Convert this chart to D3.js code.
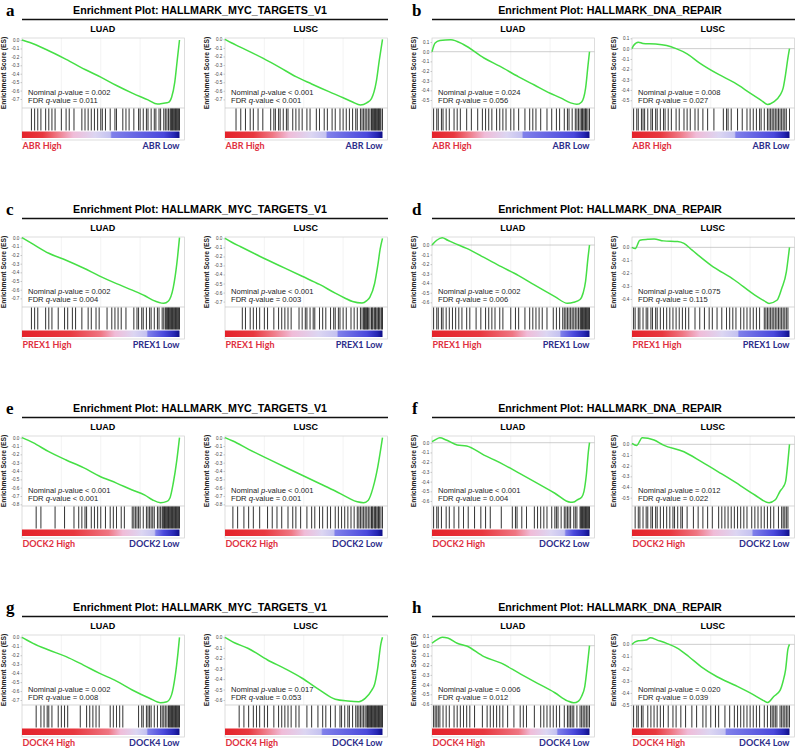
<!DOCTYPE html>
<html><head><meta charset="utf-8">
<script src="https://cdn.jsdelivr.net/npm/d3@7"></script>
<style>body{margin:0;background:#fff} svg{display:block}</style>
</head><body>
<svg id="c" width="800" height="749"></svg>
<script>
// ---------- DATA ----------
const panelLetters = ['a','b','c','d','e','f','g','h'];
const geneSets = ['HALLMARK_MYC_TARGETS_V1','HALLMARK_DNA_REPAIR','HALLMARK_MYC_TARGETS_V1','HALLMARK_DNA_REPAIR',
                  'HALLMARK_MYC_TARGETS_V1','HALLMARK_DNA_REPAIR','HALLMARK_MYC_TARGETS_V1','HALLMARK_DNA_REPAIR'];
const genes = ['ABR','ABR','PREX1','PREX1','DOCK2','DOCK2','DOCK4','DOCK4'];
const cohorts = ['LUAD','LUSC'];
// subplot order: aLUAD, aLUSC, bLUAD, bLUSC, ... hLUSC
const pValues = ['= 0.002','< 0.001','= 0.024','= 0.008','= 0.002','< 0.001','= 0.002','= 0.075',
                 '< 0.001','< 0.001','< 0.001','= 0.012','= 0.002','= 0.017','= 0.006','= 0.020'];
const qValues = ['= 0.011','< 0.001','= 0.056','= 0.027','= 0.004','= 0.003','= 0.006','= 0.115',
                 '< 0.001','= 0.001','= 0.004','= 0.022','= 0.008','= 0.053','= 0.012','= 0.039'];
const yDomains = [[-0.807,0.024],[-0.80,0.015],[-0.583,0.142],[-0.575,0.103],[-0.80,0.008],[-0.76,0.015],
                  [-0.649,0.084],[-0.462,0.08],[-0.82,0.02],[-0.82,0.02],[-0.651,0.069],[-0.578,0.078],
                  [-0.756,0.026],[-0.648,0.022],[-0.61,0.11],[-0.50,0.077]];
const tickTop =    [0,0,0.1,0.1,0,0,0,0,0,0,0,0,0,0,0.1,0];
const tickBottom = [-0.7,-0.7,-0.5,-0.5,-0.7,-0.7,-0.6,-0.4,-0.8,-0.8,-0.6,-0.5,-0.7,-0.6,-0.6,-0.5];
const redEnd =    [0.22,0.30,0.23,0.30,0.50,0.30,0.51,0.32,0.55,0.42,0.53,0.41,0.55,0.25,0.55,0.25];
const blueStart = [0.57,0.65,0.58,0.66,0.80,0.72,0.82,0.68,0.85,0.70,0.85,0.77,0.80,0.62,0.80,0.60];

const esCurves = [
 [[0,0],[0.05,-0.03],[0.15,-0.11],[0.28,-0.23],[0.4,-0.35],[0.5,-0.44],[0.6,-0.54],[0.7,-0.63],[0.8,-0.71],[0.86,-0.76],[0.9,-0.75],[0.93,-0.74],[0.95,-0.68],[0.97,-0.5],[0.985,-0.25],[1,0]],
 [[0,0],[0.04,-0.04],[0.09,-0.085],[0.24,-0.22],[0.35,-0.33],[0.45,-0.435],[0.55,-0.52],[0.66,-0.61],[0.75,-0.68],[0.81,-0.73],[0.86,-0.765],[0.9,-0.74],[0.93,-0.69],[0.96,-0.5],[0.98,-0.24],[1,0]],
 [[0,0],[0.02,0.09],[0.05,0.115],[0.12,0.125],[0.2,0.075],[0.33,-0.065],[0.43,-0.15],[0.55,-0.26],[0.65,-0.345],[0.75,-0.43],[0.82,-0.48],[0.88,-0.53],[0.92,-0.545],[0.95,-0.52],[0.975,-0.38],[0.99,-0.15],[1,0]],
 [[0,0],[0.01,0.03],[0.04,0.063],[0.07,0.05],[0.15,0.045],[0.22,0.03],[0.28,0.0],[0.35,-0.05],[0.43,-0.14],[0.55,-0.25],[0.65,-0.33],[0.75,-0.43],[0.82,-0.5],[0.86,-0.54],[0.9,-0.515],[0.94,-0.45],[0.96,-0.38],[0.975,-0.25],[0.99,-0.09],[1,0]],
 [[0,0],[0.07,-0.075],[0.17,-0.18],[0.28,-0.26],[0.39,-0.35],[0.49,-0.44],[0.6,-0.53],[0.7,-0.605],[0.78,-0.67],[0.83,-0.72],[0.9,-0.757],[0.93,-0.73],[0.96,-0.58],[0.983,-0.3],[1,0]],
 [[0,0],[0.04,-0.04],[0.1,-0.093],[0.27,-0.24],[0.38,-0.33],[0.49,-0.42],[0.6,-0.51],[0.7,-0.607],[0.76,-0.66],[0.81,-0.7],[0.87,-0.717],[0.9,-0.69],[0.92,-0.65],[0.95,-0.5],[0.97,-0.3],[0.985,-0.12],[1,0]],
 [[0,0],[0.03,0.05],[0.065,0.076],[0.1,0.05],[0.14,0.02],[0.22,-0.035],[0.33,-0.13],[0.44,-0.227],[0.55,-0.32],[0.65,-0.418],[0.78,-0.54],[0.86,-0.61],[0.9,-0.6],[0.94,-0.57],[0.96,-0.5],[0.975,-0.38],[0.99,-0.14],[1,0]],
 [[0,0],[0.02,-0.01],[0.05,0.055],[0.1,0.062],[0.14,0.065],[0.2,0.05],[0.29,0.045],[0.33,0.03],[0.38,-0.02],[0.5,-0.137],[0.65,-0.253],[0.78,-0.37],[0.84,-0.415],[0.87,-0.434],[0.92,-0.41],[0.95,-0.32],[0.98,-0.19],[0.995,-0.05],[1,0]],
 [[0,0],[0.07,-0.06],[0.17,-0.168],[0.28,-0.268],[0.39,-0.36],[0.49,-0.46],[0.6,-0.545],[0.7,-0.628],[0.78,-0.69],[0.83,-0.748],[0.88,-0.78],[0.92,-0.765],[0.94,-0.72],[0.96,-0.55],[0.983,-0.27],[1,0]],
 [[0,0],[0.05,-0.04],[0.15,-0.14],[0.28,-0.26],[0.4,-0.37],[0.5,-0.46],[0.6,-0.55],[0.7,-0.64],[0.78,-0.72],[0.84,-0.77],[0.88,-0.78],[0.91,-0.75],[0.94,-0.6],[0.97,-0.35],[1,0]],
 [[0,0.01],[0.02,0.03],[0.05,0.05],[0.09,0.028],[0.16,-0.024],[0.22,-0.034],[0.33,-0.127],[0.44,-0.212],[0.55,-0.31],[0.65,-0.4],[0.78,-0.52],[0.88,-0.613],[0.9,-0.61],[0.92,-0.59],[0.95,-0.56],[0.965,-0.5],[0.98,-0.33],[0.993,-0.09],[1,0]],
 [[0,0.01],[0.03,-0.01],[0.065,0.062],[0.14,0.04],[0.2,-0.007],[0.33,-0.07],[0.44,-0.163],[0.55,-0.26],[0.65,-0.35],[0.78,-0.475],[0.87,-0.547],[0.91,-0.52],[0.94,-0.44],[0.96,-0.4],[0.975,-0.35],[0.99,-0.16],[1,0]],
 [[0,0],[0.03,-0.03],[0.07,-0.067],[0.17,-0.142],[0.28,-0.216],[0.39,-0.31],[0.49,-0.4],[0.6,-0.49],[0.7,-0.588],[0.81,-0.68],[0.88,-0.73],[0.92,-0.72],[0.95,-0.64],[0.972,-0.44],[0.99,-0.18],[1,0]],
 [[0,0],[0.06,-0.052],[0.145,-0.105],[0.27,-0.217],[0.38,-0.3],[0.49,-0.392],[0.6,-0.504],[0.7,-0.593],[0.78,-0.61],[0.85,-0.616],[0.89,-0.585],[0.93,-0.51],[0.95,-0.45],[0.968,-0.31],[0.99,-0.06],[1,0]],
 [[0,0.025],[0.03,0.06],[0.065,0.087],[0.1,0.08],[0.16,0.025],[0.22,-0.003],[0.33,-0.113],[0.44,-0.18],[0.55,-0.28],[0.65,-0.37],[0.78,-0.484],[0.86,-0.567],[0.9,-0.588],[0.93,-0.57],[0.95,-0.52],[0.97,-0.42],[0.99,-0.15],[1,0]],
 [[0,0],[0.02,0.02],[0.04,0.03],[0.09,0.035],[0.117,0.054],[0.16,0.035],[0.22,0.008],[0.29,-0.033],[0.36,-0.1],[0.44,-0.185],[0.54,-0.267],[0.65,-0.335],[0.75,-0.4],[0.84,-0.467],[0.86,-0.48],[0.9,-0.43],[0.94,-0.38],[0.96,-0.3],[0.975,-0.21],[0.99,-0.04],[1,0]]
];

// gene-set hit positions along the ranked list (percent of list)
const hits = [
 [6,8,10,12,15,17,19,21,25,28,30,33,38,40,42,44,46,48,50,51,53,56,59,60,64,66,68,71,74,75,77,79,80,82,84,85,87,88,90,91,92,93,94,94.5,95,95.5,96,96.5,97,97.5,98,98.5,99,99.5,100],
 [7,10,13,16,18,21,24,29,31,32,34,35,37,39,40,43,45,47,49,52,54,58,60,63,65,68,70,73,75,77,79,81,83,84,86,87,88,89,90,91,92,93,93.5,94,94.5,95,95.5,96,96.5,97,97.5,98,98.5,99,100],
 [1,3,4,6,7,9,11,14,16,18,22,25,29,32,34,36,38,41,43,45,47,50,52,55,59,62,64,66,69,73,76,79,81,84,86,87,89,91,92,93,94,95,95.5,96,97,97.5,98,99,100],
 [1,3,4,6,7,8,10,12,13,15,16,18,20,21,23,25,28,30,33,35,37,40,42,45,48,52,58,60,61,63,67,70,73,75,77,79,81,82,84,86,87,88,89,90,91,92,93,94,95,96,97,98,100],
 [6,8,10,15,17,19,23,27,29,32,34,38,42,44,47,49,54,57,59,61,63,66,71,73,74,76,77,79,81,82,84,86,87,89,90,91,91.5,92,92.5,93,93.5,94,94.5,95,95.5,96,96.5,97,97.5,98,98.5,99,99.5,100],
 [11,13,16,18,20,22,25,27,31,34,36,38,40,42,47,49,51,52,54,56,57,60,62,64,67,69,70,72,73,75,77,80,82,84,86,87,88,88.5,89,89.5,90,90.5,91,92,93,93.5,94,95,95.5,96,97,97.5,98,99,99.5,100],
 [1,3,4,6,7,9,11,13,15,17,19,22,24,28,31,34,36,38,40,43,45,50,53,55,59,62,64,66,68,70,73,77,79,81,83,84,85,86,87,88,89,90,91,92,93,94,94.5,95,95.5,96,96.5,97,97.5,98,98.5,99,99.5,100],
 [1,2,4,5,7,9,10,12,13,15,16,18,20,22,24,26,28,30,32,34,36,40,43,46,49,51,54,57,60,62,64,66,69,71,73,75,77,79,81,84,85,86,87,88,89,90,91,92,93,94,95,96,97,98,99],
 [9,12,21,27,33,36,38,40,41,44,46,48,50,53,56,58,60,63,65,70,71,72,73,74,75,77,79,80,81,82,83,84,86,87,88,89,89.5,90,90.5,91,91.5,92,92.5,93,93.5,94,94.5,95,95.5,96,96.5,97,97.5,98,98.5,99,99.5,100],
 [5,8,12,15,18,22,27,30,33,36,40,43,45,48,52,55,57,60,62,65,67,70,72,74,76,78,80,82,84,85,86,87,88,89,90,91,92,93,93.5,94,95,95.5,96,97,97.5,98,99,100],
 [1,3,4,6,9,11,14,17,20,23,27,31,34,37,44,51,53,54,57,60,65,67,69,71,73,76,78,79,80,82,84,85,86,87,88,90,91,92,94,94.5,95,95.5,96,96.5,97,97.5,98,98.5,99,99.5,100],
 [2,4,5,7,9,10,12,13,15,16,18,20,22,24,26,27,29,31,32,35,39,42,45,48,51,55,57,59,61,63,65,67,69,71,73,76,78,80,82,84,86,88,90,93,95,96,97,98,99],
 [9,12,14,16,17,19,23,25,27,29,37,41,43,45,47,49,56,58,60,62,64,74,76,77,79,80,81,82,84,86,88,89,90,91,92,93,93.5,94,94.5,95,95.5,96,96.5,97,97.5,98,98.5,99,99.5,100],
 [9,12,15,18,20,22,25,27,31,34,36,38,40,42,45,47,52,55,59,62,64,67,70,73,74,76,78,79,81,83,84,85,86,87,88,89,90,90.5,91,91.5,92,92.5,93,93.5,94,94.5,95,95.5,96,96.5,97,97.5,98,98.5,99,99.5,100],
 [1,2,3,4,5,7,9,11,14,16,18,20,22,24,27,32,35,37,39,41,43,45,48,52,56,58,60,65,69,71,73,75,77,79,81,84,86,87,88,89,90,92,94,95,96,97,98,99,100],
 [1,3,4,6,7,10,12,14,16,18,20,23,26,28,31,34,38,41,45,47,50,53,55,59,62,65,67,69,71,73,75,77,79,81,84,86,88,89,90,91,92,94,95,96,97,98,99,100]
];

// ---------- DRAW ----------
const svg = d3.select('#c');
const defs = svg.append('defs');
const ROW_H = 199;
const colX = [[22,225],[432,632]];
const PW = 157.5;
const TOP = 38, CURVE_B = 108, BAR_T = 108, BAR_B = 130.5, GR_T = 131.5, GR_B = 138, BOX_B = 140;
const SANS = 'Liberation Sans, Arial, sans-serif';
const LABEL = 'Lato, Open Sans, sans-serif';

panelLetters.forEach((L, p) => {
  const col = p % 2, row = Math.floor(p / 2);
  const g = svg.append('g').attr('transform', `translate(0,${row * ROW_H})`);
  g.append('text').attr('x', col ? 412 : 6).attr('y', 16)
    .attr('font-family', 'Liberation Serif, Times New Roman, serif').attr('font-weight', 'bold')
    .attr('font-size', 17).text(L);
  g.append('text').attr('x', col ? 610 : 200).attr('y', 14).attr('text-anchor', 'middle')
    .attr('font-family', SANS).attr('font-weight', 'bold').attr('font-size', 10.7)
    .text('Enrichment Plot: ' + geneSets[p]);
  g.append('line').attr('x1', col ? 432 : 22).attr('x2', col ? 795 : 388)
    .attr('y1', 19.5).attr('y2', 19.5).attr('stroke', '#111').attr('stroke-width', 1.3);

  cohorts.forEach((coh, k) => {
    const i = p * 2 + k;
    const x0 = colX[col][k];
    const x = d3.scaleLinear().domain([0, 1]).range([x0, x0 + PW]);
    const y = d3.scaleLinear().domain(yDomains[i]).range([CURVE_B, TOP]);
    const sg = g.append('g');

    sg.append('text').attr('x', x(0.5) + 2).attr('y', 31.5).attr('text-anchor', 'middle')
      .attr('font-family', SANS).attr('font-weight', 'bold').attr('font-size', 9).text(coh);

    [0.25, 0.5, 0.75].forEach(f => sg.append('line').attr('x1', x(f)).attr('x2', x(f))
      .attr('y1', TOP).attr('y2', CURVE_B).attr('stroke', '#ececec').attr('stroke-width', 0.6));

    sg.append('rect').attr('x', x0).attr('y', TOP).attr('width', PW + 5).attr('height', BOX_B - TOP)
      .attr('fill', 'none').attr('stroke', '#cfcfcf').attr('stroke-width', 0.7);
    sg.append('line').attr('x1', x0).attr('x2', x0 + PW + 5).attr('y1', BAR_T).attr('y2', BAR_T)
      .attr('stroke', '#c4c4c4').attr('stroke-width', 0.7);

    if (yDomains[i][1] > 0.03) {
      sg.append('line').attr('x1', x0).attr('x2', x0 + PW + 5).attr('y1', y(0)).attr('y2', y(0))
        .attr('stroke', '#b8b8b8').attr('stroke-width', 0.7);
    }

    const ticks = d3.range(Math.round(tickTop[i] * 10), Math.round(tickBottom[i] * 10) - 1, -1).map(v => v / 10);
    const ax = sg.append('g').attr('transform', `translate(${x0},0)`)
      .call(d3.axisLeft(y).tickValues(ticks).tickSize(1.5).tickPadding(1.2)
        .tickFormat(d => (Math.abs(d) < 1e-9 ? '0.0' : d.toFixed(1))));
    ax.select('.domain').remove();
    ax.selectAll('line').attr('stroke', '#999').attr('stroke-width', 0.5);
    ax.selectAll('text').attr('font-family', SANS).attr('font-size', 4.6).attr('fill', '#444');

    sg.append('text').attr('transform', `translate(${x0 - 16},${(TOP + CURVE_B) / 2}) rotate(-90)`)
      .attr('text-anchor', 'middle').attr('font-family', SANS).attr('font-weight', 'bold')
      .attr('font-size', 6.7).attr('fill', '#222').text('Enrichment Score (ES)');

    const line = d3.line().x(d => x(d[0])).y(d => y(d[1])).curve(d3.curveMonotoneX);
    sg.append('path').datum(esCurves[i]).attr('d', line).attr('fill', 'none')
      .attr('stroke', '#45df45').attr('stroke-width', 1.5);

    const t1 = sg.append('text').attr('x', x0 + 6).attr('y', 94.8).attr('font-family', SANS)
      .attr('font-size', 7.6).attr('fill', '#222');
    t1.append('tspan').text('Nominal ');
    t1.append('tspan').attr('font-style', 'italic').text('p');
    t1.append('tspan').text('-value ' + pValues[i]);
    const t2 = sg.append('text').attr('x', x0 + 6).attr('y', 103.4).attr('font-family', SANS)
      .attr('font-size', 7.6).attr('fill', '#222');
    t2.append('tspan').text('FDR ');
    t2.append('tspan').attr('font-style', 'italic').text('q');
    t2.append('tspan').text('-value ' + qValues[i]);

    sg.append('g').selectAll('line').data(hits[i]).join('line')
      .attr('x1', d => x(d / 100)).attr('x2', d => x(d / 100))
      .attr('y1', BAR_T + 0.5).attr('y2', BAR_B)
      .attr('stroke', '#1a1a1a').attr('stroke-width', 1.05).attr('stroke-opacity', 0.85);

    const re = redEnd[i], bs = blueStart[i];
    const gid = 'grad' + i;
    const lg = defs.append('linearGradient').attr('id', gid);
    const stops = [
      [0, '#e4222a'], [re * 0.6, '#e8383f'], [re, '#ef7682'],
      [re + (bs - re) * 0.3, '#f0bcd8'], [re + (bs - re) * 0.7, '#dcd6f2'],
      [bs - 0.01, '#c4c2f0'], [bs, '#8080ea'], [0.9, '#4a48dc'], [0.965, '#2626b4'], [1, '#0e0e86']
    ];
    stops.forEach(s => lg.append('stop').attr('offset', s[0]).attr('stop-color', s[1]));
    sg.append('rect').attr('x', x0).attr('y', GR_T).attr('width', PW).attr('height', GR_B - GR_T)
      .attr('fill', `url(#${gid})`);

    sg.append('text').attr('x', x0 + 0.5).attr('y', 148.7).attr('font-family', LABEL)
      .attr('font-weight', 'bold').attr('font-size', 9).attr('fill', '#e03040')
      .text(genes[p] + ' High');
    sg.append('text').attr('x', x0 + PW).attr('y', 148.7).attr('text-anchor', 'end')
      .attr('font-family', LABEL).attr('font-weight', 'bold').attr('font-size', 9).attr('fill', '#2c2c8a')
      .text(genes[p] + ' Low');
  });
});
</script>
</body></html>
